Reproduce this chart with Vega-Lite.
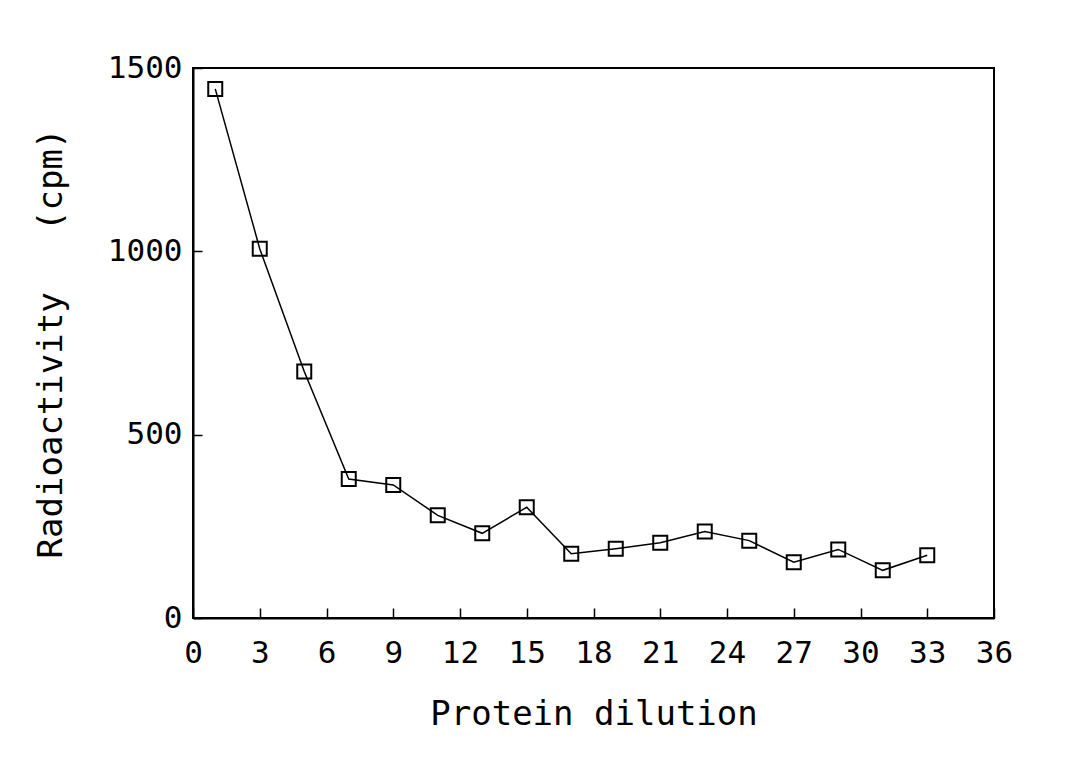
{
  "$schema": "https://vega.github.io/schema/vega-lite/v6.json",
  "width": 801,
  "height": 550,
  "autosize": {"type": "none"},
  "padding": {"left": 193, "top": 68, "right": 71, "bottom": 160},
  "background": "white",
  "config": {
    "view": {"stroke": "black", "strokeWidth": 2},
    "axis": {
      "grid": false,
      "domainColor": "black",
      "domainWidth": 2,
      "tickColor": "black",
      "tickWidth": 1.5,
      "labelFont": "DejaVu Sans Mono",
      "labelFontSize": 31,
      "labelColor": "black",
      "titleFont": "DejaVu Sans Mono",
      "titleFontSize": 34,
      "titleFontWeight": "normal",
      "titleColor": "black"
    }
  },
  "data": {
    "values": [
      {"dilution": 1, "cpm": 1443},
      {"dilution": 3, "cpm": 1007},
      {"dilution": 5, "cpm": 672},
      {"dilution": 7, "cpm": 379},
      {"dilution": 9, "cpm": 363},
      {"dilution": 11, "cpm": 280},
      {"dilution": 13, "cpm": 231},
      {"dilution": 15, "cpm": 302},
      {"dilution": 17, "cpm": 175},
      {"dilution": 19, "cpm": 189},
      {"dilution": 21, "cpm": 205},
      {"dilution": 23, "cpm": 236},
      {"dilution": 25, "cpm": 211},
      {"dilution": 27, "cpm": 152},
      {"dilution": 29, "cpm": 187},
      {"dilution": 31, "cpm": 130},
      {"dilution": 33, "cpm": 171}
    ]
  },
  "encoding": {
    "x": {
      "field": "dilution",
      "type": "quantitative",
      "scale": {"domain": [0, 36], "nice": false},
      "axis": {
        "title": "Protein dilution",
        "values": [0, 3, 6, 9, 12, 15, 18, 21, 24, 27, 30, 33, 36],
        "format": "d",
        "tickSize": -10,
        "labelPadding": 30,
        "titlePadding": 29,
        "labelFlush": false
      }
    },
    "y": {
      "field": "cpm",
      "type": "quantitative",
      "scale": {"domain": [0, 1500], "nice": false},
      "axis": {
        "title": "Radioactivity\u00a0\u00a0\u00a0(cpm)",
        "values": [0, 500, 1000, 1500],
        "format": "d",
        "tickSize": -9,
        "labelPadding": 20,
        "titlePadding": 39,
        "labelFlush": false
      }
    }
  },
  "layer": [
    {"mark": {"type": "line", "color": "black", "strokeWidth": 1.5}},
    {"mark": {"type": "point", "shape": "square", "size": 196, "filled": false, "stroke": "black", "strokeWidth": 2, "opacity": 1, "fill": "white", "fillOpacity": 0}}
  ]
}
